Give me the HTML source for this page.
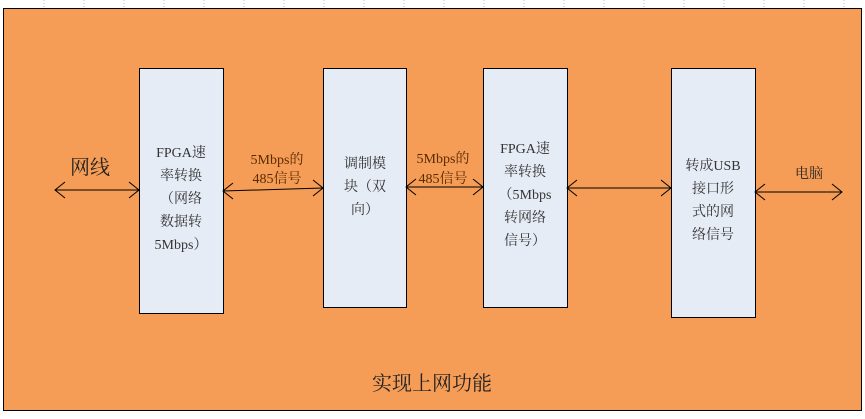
<!DOCTYPE html>
<html><head><meta charset="utf-8"><style>
body{margin:0;width:865px;height:414px;overflow:hidden;background:#fff;}
</style></head><body>
<svg width="865" height="414" xmlns="http://www.w3.org/2000/svg" font-family="'Liberation Serif','Noto Serif CJK SC',serif">
<g stroke="#bbb" stroke-dasharray="1,2">
<line x1="44" y1="0" x2="44" y2="8"/><line x1="84" y1="0" x2="84" y2="8"/><line x1="124" y1="0" x2="124" y2="8"/><line x1="164" y1="0" x2="164" y2="8"/><line x1="204" y1="0" x2="204" y2="8"/><line x1="244" y1="0" x2="244" y2="8"/><line x1="284" y1="0" x2="284" y2="8"/><line x1="324" y1="0" x2="324" y2="8"/><line x1="364" y1="0" x2="364" y2="8"/><line x1="404" y1="0" x2="404" y2="8"/><line x1="444" y1="0" x2="444" y2="8"/><line x1="484" y1="0" x2="484" y2="8"/><line x1="524" y1="0" x2="524" y2="8"/><line x1="564" y1="0" x2="564" y2="8"/><line x1="604" y1="0" x2="604" y2="8"/><line x1="644" y1="0" x2="644" y2="8"/><line x1="684" y1="0" x2="684" y2="8"/><line x1="724" y1="0" x2="724" y2="8"/><line x1="764" y1="0" x2="764" y2="8"/><line x1="804" y1="0" x2="804" y2="8"/><line x1="844" y1="0" x2="844" y2="8"/>
</g>
<rect x="3.5" y="8.5" width="858" height="402" fill="#F59D56" stroke="#000"/>
<g fill="#E6ECF6" stroke="#000">
<rect x="139.5" y="68.5" width="84" height="245"/>
<rect x="323.5" y="68.5" width="83" height="239"/>
<rect x="483.5" y="68.5" width="84" height="239"/>
<rect x="671.5" y="68.5" width="84" height="249"/>
</g>
<g stroke="#000" fill="none" stroke-width="1">
<line x1="55" y1="190" x2="139" y2="190"/><polyline points="65,182 55,190 65,198"/><polyline points="129,182 139,190 129,198"/>
<line x1="223" y1="191" x2="323" y2="188"/><polyline points="233,183 223,191 233,199"/><polyline points="313,180 323,188 313,196"/>
<line x1="406" y1="187" x2="483" y2="187"/><polyline points="416,179 406,187 416,195"/><polyline points="473,179 483,187 473,195"/>
<line x1="567" y1="188" x2="671" y2="188"/><polyline points="577,180 567,188 577,196"/><polyline points="661,180 671,188 661,196"/>
<line x1="755" y1="192" x2="842" y2="192"/><polyline points="765,184 755,192 765,200"/><polyline points="832,184 842,192 832,200"/>
</g>
<g fill="#333" font-size="14" text-anchor="middle">
<text x="181" y="157">FPGA速</text><text x="181" y="180">率转换</text><text x="181" y="203">（网络</text><text x="181" y="226">数据转</text><text x="181" y="239" dy="10">5Mbps）</text>
<text x="365" y="168">调制模</text><text x="365" y="191">块（双</text><text x="365" y="214">向）</text>
<text x="525" y="153">FPGA速</text><text x="525" y="176">率转换</text><text x="525" y="199">（5Mbps</text><text x="525" y="222">转网络</text><text x="525" y="235" dy="10">信号）</text>
<text x="713" y="170">转成USB</text><text x="713" y="193">接口形</text><text x="713" y="216">式的网</text><text x="713" y="239">络信号</text>
</g>
<g fill="#5a2a00" font-size="14" text-anchor="middle">
<text x="277" y="164">5Mbps的</text><text x="277" y="183">485信号</text>
<text x="443" y="163">5Mbps的</text><text x="443" y="183">485信号</text>
<text x="809" y="178" fill="#222">电脑</text>
</g>
<text x="90" y="174" font-size="20" text-anchor="middle" fill="#222">网线</text>
<text x="432" y="390" font-size="20" text-anchor="middle" fill="#222">实现上网功能</text>
</svg>
</body></html>
